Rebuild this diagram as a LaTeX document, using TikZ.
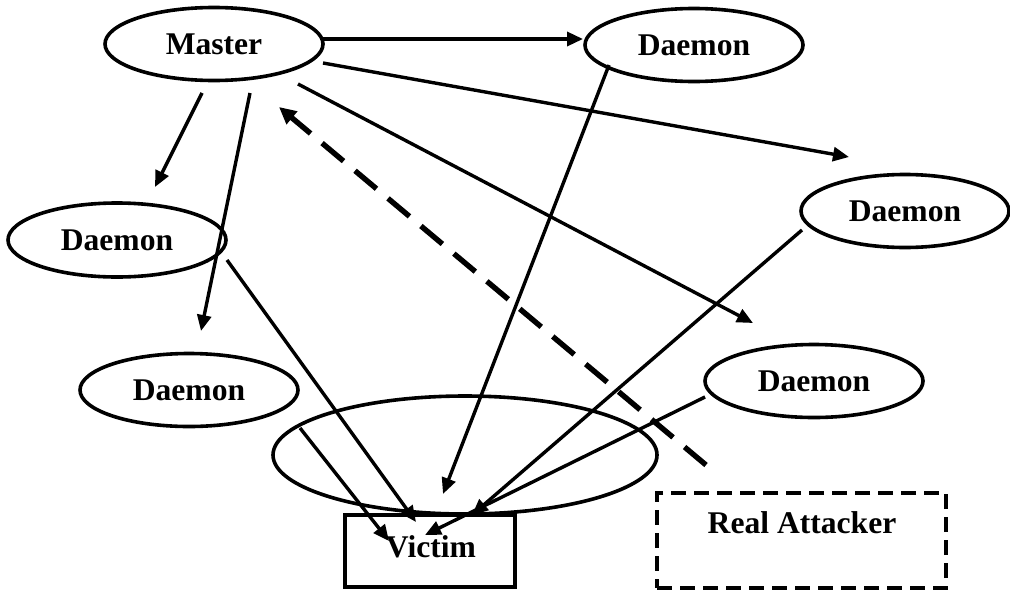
\documentclass[tikz,border=0pt]{standalone}
\usepackage{fontspec}
\setmainfont{Liberation Serif}
\usetikzlibrary{shapes.geometric,arrows.meta,calc}
\begin{document}
\begin{tikzpicture}[x=0.5pt,y=-0.5pt,
  every node/.style={font=\fontsize{15.8}{19}\selectfont\bfseries, inner sep=0pt},
  oval/.style={ellipse, draw, line width=1.8pt, minimum width=109pt, minimum height=36.5pt},
  link/.style={line width=1.7pt, -{Triangle[length=8pt,width=7pt]}},
  back/.style={line width=2.7pt, dash pattern=on 14pt off 7.5pt, -{Triangle[length=8.5pt,width=8pt]}},
  victimbox/.style={draw, line width=2.2pt, minimum width=85pt, minimum height=36pt},
  dashbox/.style={draw, line width=2.2pt, dash pattern=on 7.5pt off 4pt, minimum width=144.5pt, minimum height=47.5pt}
]
\useasboundingbox (0,0) rectangle (1010,594);

\node[oval] (master) at (214,44) {Master};
\node[oval] (d1) at (694,45) {Daemon};
\node[oval, minimum width=104pt] (d2) at (905,211) {Daemon};
\node[oval, minimum height=37pt] (d3) at (117,240) {Daemon};
\node[oval] (d4) at (189,390) {Daemon};
\node[oval] (d5) at (814,381) {Daemon};
\node[ellipse, draw, line width=1.8pt, minimum width=192pt, minimum height=59pt] (cloud) at (465,455) {};
\node[victimbox] (victim) at (430,551) {};
\node (victimtext) at (431,547) {Victim};
\node[dashbox] (attacker) at (801.5,540.5) {};
\node (attackertext) at (802,523) {Real Attacker};

\coordinate (t2) at (849,157);
\coordinate (t3) at (753,323);
\coordinate (t4) at (155,187);
\coordinate (t5) at (201,331);
\coordinate (t6) at (279,107);
\coordinate (t7) at (443,494);
\coordinate (t8) at (416,522);
\coordinate (t9) at (389,541);
\coordinate (t10) at (472,515);
\coordinate (t11) at (425,535);

\draw[link] ($(master)+(109,-5)$) -- ($(d1)+(-111,-6)$);
\draw[link] ($(master)+(109,19)$) -- (t2);
\draw[link] ($(master)+(84,40)$) -- (t3);
\draw[link] ($(master)+(-12,49)$) -- (t4);
\draw[link] ($(master)+(36,49)$) -- (t5);
\draw[back] ($(attacker)+(-95.5,-75.5)$) -- (t6);
\draw[link] ($(d1)+(-85,20)$) -- (t7);
\draw[link] ($(d3)+(110,20)$) -- (t8);
\draw[link] ($(cloud)+(-165,-27)$) -- (t9);
\draw[link] ($(d2)+(-103,19)$) -- (t10);
\draw[link] ($(d5)+(-109,16)$) -- (t11);
\end{tikzpicture}
\end{document}
